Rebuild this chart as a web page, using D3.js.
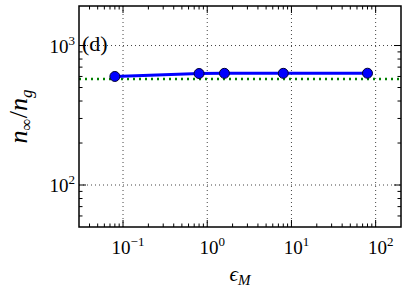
<!DOCTYPE html>
<html><head><meta charset="utf-8">
<script src="https://cdn.jsdelivr.net/npm/d3@7"></script>
<style>body{margin:0;background:#fff}svg{display:block}</style>
</head><body>
<svg id="c" width="407" height="295"></svg>
<script>
const epsM = [0.08, 0.8, 1.6, 8, 80];
const nRatio = [600, 630, 632, 632, 633];
const refLevel = 575;
const xTickExps = [-1, 0, 1, 2];
const yTickExps = [2, 3];
const panelLabel = "(d)";

const m = {l: 79, t: 6, r: 401, b: 227};
const svg = d3.select("#c");
const FF = '"Liberation Serif"';
const x = d3.scaleLog().domain([0.03, 200]).range([m.l, m.r]);
const y = d3.scaleLog().domain([50, 1920]).range([m.b, m.t]);

// grid
const g = svg.append("g");
xTickExps.forEach(e => {
  g.append("line").attr("x1", x(10**e)).attr("x2", x(10**e)).attr("y1", m.t).attr("y2", m.b)
   .attr("stroke", "#444").attr("stroke-width", 1).attr("stroke-dasharray", "1,3");
});
yTickExps.forEach(e => {
  g.append("line").attr("y1", y(10**e)).attr("y2", y(10**e)).attr("x1", m.l).attr("x2", m.r)
   .attr("stroke", "#444").attr("stroke-width", 1).attr("stroke-dasharray", "1,3");
});

// ticks (inside, all sides)
const xMinor = [], yMinor = [];
for (let e = -2; e <= 2; e++) for (let k = 2; k <= 9; k++) { const v = k * 10**e; if (v > 0.03 && v < 200) xMinor.push(v); }
for (let e = 1; e <= 3; e++) for (let k = 2; k <= 9; k++) { const v = k * 10**e; if (v > 50 && v < 1920) yMinor.push(v); }
const tk = svg.append("g").attr("stroke", "#000").attr("stroke-width", 1);
xTickExps.forEach(e => {
  const v = x(10**e);
  tk.append("line").attr("x1", v).attr("x2", v).attr("y1", m.b).attr("y2", m.b - 7);
  tk.append("line").attr("x1", v).attr("x2", v).attr("y1", m.t).attr("y2", m.t + 7);
});
xMinor.forEach(d => {
  const v = x(d);
  tk.append("line").attr("x1", v).attr("x2", v).attr("y1", m.b).attr("y2", m.b - 3.5);
  tk.append("line").attr("x1", v).attr("x2", v).attr("y1", m.t).attr("y2", m.t + 3.5);
});
yTickExps.forEach(e => {
  const v = y(10**e);
  tk.append("line").attr("y1", v).attr("y2", v).attr("x1", m.l).attr("x2", m.l + 7);
  tk.append("line").attr("y1", v).attr("y2", v).attr("x1", m.r).attr("x2", m.r - 7);
});
yMinor.forEach(d => {
  const v = y(d);
  tk.append("line").attr("y1", v).attr("y2", v).attr("x1", m.l).attr("x2", m.l + 3.5);
  tk.append("line").attr("y1", v).attr("y2", v).attr("x1", m.r).attr("x2", m.r - 3.5);
});

// reference green dotted line
svg.append("line").attr("x1", m.l).attr("x2", m.r).attr("y1", y(refLevel)).attr("y2", y(refLevel))
  .attr("stroke", "#008000").attr("stroke-width", 2.5).attr("stroke-dasharray", "2,4");

// data line
const line = d3.line().x((d, i) => x(epsM[i])).y(d => y(d));
svg.append("path").datum(nRatio).attr("d", line).attr("fill", "none")
  .attr("stroke", "#0000ff").attr("stroke-width", 3);
svg.selectAll("circle.pt").data(nRatio).enter().append("circle")
  .attr("cx", (d, i) => x(epsM[i])).attr("cy", d => y(d)).attr("r", 5)
  .attr("fill", "#0000ff").attr("stroke", "#000033").attr("stroke-width", 1);

// frame
svg.append("rect").attr("x", m.l).attr("y", m.t).attr("width", m.r - m.l).attr("height", m.b - m.t)
  .attr("fill", "none").attr("stroke", "#000").attr("stroke-width", 1.5);

// tick labels
xTickExps.forEach(e => {
  const t = svg.append("text").attr("x", x(10**e) + 5).attr("y", 254).attr("text-anchor", "middle")
    .style("font-family", FF).attr("font-size", 19);
  t.append("tspan").text("10");
  t.append("tspan").attr("dy", -8).attr("font-size", 13).text(e < 0 ? "\u2212" + (-e) : e);
});
yTickExps.forEach(e => {
  const t = svg.append("text").attr("x", m.l - 4).attr("y", y(10**e) + 7).attr("text-anchor", "end")
    .style("font-family", FF).attr("font-size", 19);
  t.append("tspan").text("10");
  t.append("tspan").attr("dy", -8).attr("font-size", 13).text(e);
});

// panel label
svg.append("text").attr("x", 82).attr("y", 51).style("font-family", FF).attr("font-size", 22).text(panelLabel);

// x label
const xl = svg.append("text").attr("x", (m.l + m.r) / 2).attr("y", 281).attr("text-anchor", "middle")
  .style("font-family", FF).attr("font-size", 21);
xl.append("tspan").attr("font-style", "italic").text("\u03f5");
xl.append("tspan").attr("font-style", "italic").attr("font-size", 15).attr("dy", 4).text("M");

// y label
const yl = svg.append("text").attr("transform", `translate(27, ${(m.t + m.b) / 2}) rotate(-90)`)
  .attr("text-anchor", "middle").style("font-family", FF).attr("font-size", 26);
yl.append("tspan").attr("font-style", "italic").text("n");
yl.append("tspan").attr("font-size", 17).attr("dy", 5).text("\u221e");
yl.append("tspan").attr("dy", -5).text("/");
yl.append("tspan").attr("font-style", "italic").text("n");
yl.append("tspan").attr("font-style", "italic").attr("font-size", 17).attr("dy", 5).text("g");
</script>
</body></html>
